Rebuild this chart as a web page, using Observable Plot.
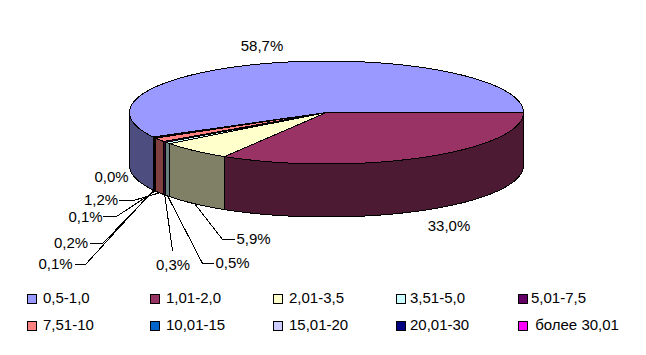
<!DOCTYPE html>
<html><head><meta charset="utf-8">
<script src="https://cdn.jsdelivr.net/npm/d3@7"></script>
<script src="https://cdn.jsdelivr.net/npm/@observablehq/plot@0.6"></script>
<style>
html,body{margin:0;padding:0;background:#fff}
#chart svg{display:block;background:#fff}
#legend{position:relative;width:646px;height:70px;font:15px "Liberation Sans",Arial,sans-serif;color:#000}
#legend div{position:absolute;white-space:pre;line-height:18px}
#legend i{position:absolute;width:8px;height:8px;border:1px solid #000;box-sizing:content-box}
</style></head><body>
<div id="chart"></div><div id="legend"></div>
<script>
const categories = ["0,5-1,0","1,01-2,0","2,01-3,5","3,51-5,0","5,01-7,5","7,51-10","10,01-15","15,01-20","20,01-30"," более 30,01"];
const values = [58.7,33.0,5.9,0.5,0.3,1.2,0.1,0.2,0.1,0.0];
const labels = ["58,7%","33,0%","5,9%","0,5%","0,3%","1,2%","0,1%","0,2%","0,1%","0,0%"];
const topColors = ["#9999FF","#993366","#FFFFCC","#CCFFFF","#660066","#FF8080","#0066CC","#CCCCFF","#000080","#FF00FF"];
const sideColors = ["#4D4D80","#4D1A33","#808066","#668080","#330033","#804040","#003366","#666680","#000040","#800080"];

// View of the disk (pixels), used only to project the values
const W=646,H=285,cx=326,cy=112,rx=197,ry=51.5,depth=53;
const total=d3.sum(values);
const end0=90; // the first slice ends at 3 o'clock
const start0=end0-values[0]/total*360;
let a=start0;
const slices=values.map((v,i)=>{const s={i,a0:a,a1:a+v/total*360};a=s.a1;return s;});
// perspective of the 3D view: the near half of the disk looks slightly larger
const fk=266.5;
const warp=t=>{t=((t-90)%360+360)%360+90;return t<=fk?90+(t-90)*180/(fk-90):270+(t-fk)*180/(450-fk);};
const px=t=>cx+rx*Math.sin(warp(t)*Math.PI/180);
const py=t=>cy-ry*Math.cos(warp(t)*Math.PI/180);
const arc=(a0,a1)=>{const n=Math.max(1,Math.ceil((a1-a0)/1.5));return d3.range(n+1).map(k=>a0+(a1-a0)*k/n);};

const tops=[],walls=[];
for(const s of slices){
  tops.push({k:s.i,x:cx,y:cy,fill:topColors[s.i]});
  for(const t of arc(s.a0,s.a1)) tops.push({k:s.i,x:px(t),y:py(t),fill:topColors[s.i]});
  // visible side: the part of the rim in the front half
  for(const off of [0,360]){
    const lo=Math.max(s.a0+off,90),hi=Math.min(s.a1+off,fk);
    if(hi>lo){
      const ts=arc(lo,hi);
      for(const t of ts) walls.push({k:s.i+"_"+off,x:px(t),y:py(t),fill:sideColors[s.i]});
      for(const t of ts.slice().reverse()) walls.push({k:s.i+"_"+off,x:px(t),y:py(t)+depth,fill:sideColors[s.i]});
    }
  }
}
// Data label layout: text position and elbow of the leader line
const labelLayout=[
 {x:261.5,y:46},{x:448.5,y:226},{x:253,y:239,el:[[234,239],[222,239]]},{x:232,y:263,el:[[213,263],[202,263]]},
 {x:172.5,y:265,el:[[172,250]]},{x:100.5,y:200,el:[[119,200],[133,200]]},{x:85,y:217,el:[[103,216],[116,216]]},
 {x:70.5,y:243,el:[[90,243],[102,243]]},{x:55,y:264,el:[[75,264],[85,264]]},{x:111,y:177}
];
const leaders=[];
slices.forEach((s,i)=>{
  const L=labelLayout[i]; if(!L.el) return;
  L.el.forEach(([x,y])=>leaders.push({k:i,x,y}));
  const m=(s.a0+s.a1)/2;
  leaders.push({k:i,x:px(m),y:py(m)+depth});
});
const txt=labels.map((t,i)=>({t,x:labelLayout[i].x,y:labelLayout[i].y}));

const chart=Plot.plot({
  width:W,height:H,margin:0,
  x:{axis:null,domain:[0,W],range:[0,W]},
  y:{axis:null,domain:[0,H],range:[0,H]},
  style:{background:"#fff"},
  marks:[
    Plot.line(walls,{x:"x",y:"y",z:"k",fill:"fill",stroke:"#000",strokeWidth:1,curve:"linear-closed",shapeRendering:"crispEdges"}),
    Plot.line(tops,{x:"x",y:"y",z:"k",fill:"fill",stroke:"#000",strokeWidth:1,curve:"linear-closed",shapeRendering:"crispEdges"}),
    Plot.line(leaders,{x:"x",y:"y",z:"k",stroke:"#000",strokeWidth:1,shapeRendering:"crispEdges"}),
    Plot.text(txt,{x:"x",y:"y",text:"t",fontSize:15,fontFamily:"'Liberation Sans',Arial,sans-serif",fill:"#000"})
  ]
});
document.getElementById("chart").append(chart);

const leg=document.getElementById("legend");
const colX=[27,150,273,396,518], rowY=[8,35], textX=[43,166,289,410,531];
categories.forEach((c,i)=>{
  const col=i%5,row=Math.floor(i/5);
  const sw=document.createElement("i");
  sw.style.cssText=`left:${colX[col]}px;top:${rowY[row]+1}px;background:${topColors[i]}`;
  const t=document.createElement("div");
  t.textContent=c;
  t.style.cssText=`left:${textX[col]}px;top:${rowY[row]-4}px`;
  leg.append(sw,t);
});
</script></body></html>
